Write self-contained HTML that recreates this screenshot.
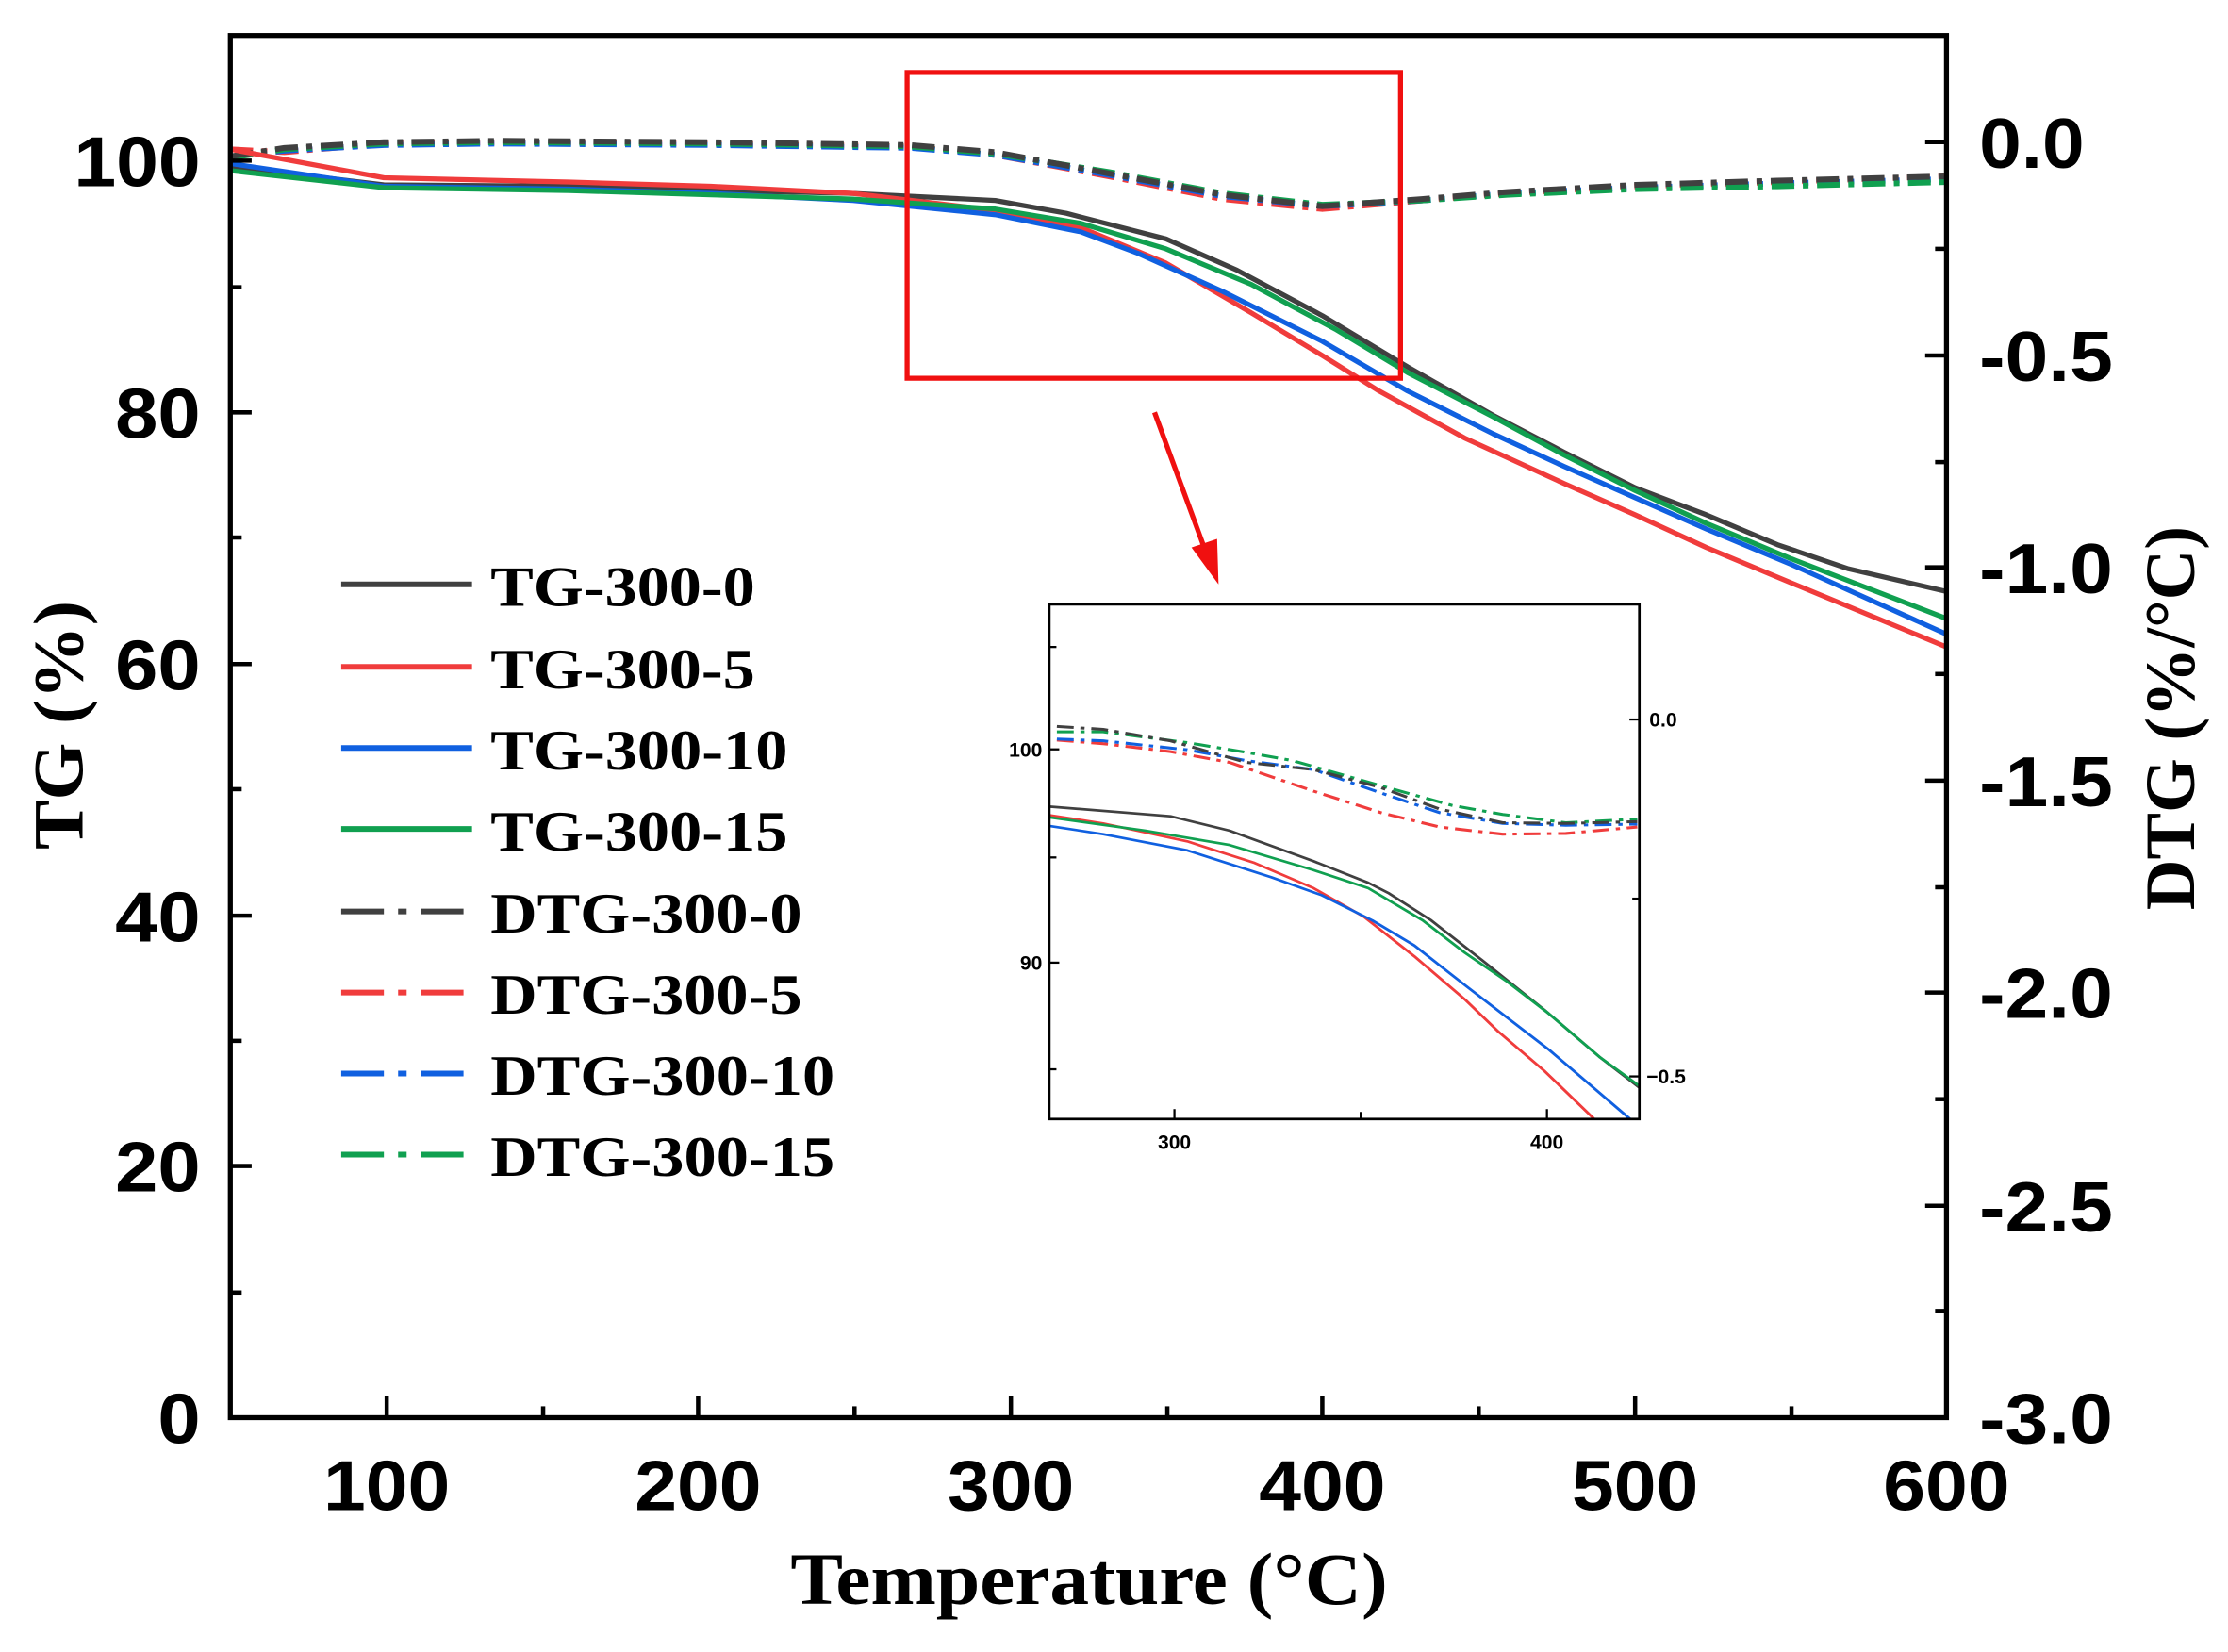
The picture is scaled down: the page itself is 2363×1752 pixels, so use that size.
<!DOCTYPE html>
<html><head><meta charset="utf-8"><style>
html,body{margin:0;padding:0;background:#fff}
svg{display:block}
.tk{font-family:"Liberation Sans",Arial,sans-serif;font-weight:bold;font-size:50px}
.sf{font-family:"Liberation Serif","Times New Roman",serif;font-weight:bold}
.sm{font-family:"Liberation Sans",Arial,sans-serif;font-weight:bold;font-size:14px}
</style></head><body>
<svg width="2363" height="1752" viewBox="0 0 1567 1161.8" preserveAspectRatio="none" xmlns="http://www.w3.org/2000/svg">
<rect width="1567" height="1162" fill="#fff"/>
<g fill="none" stroke-linejoin="round" stroke-linecap="butt">
<g stroke-width="4" stroke-dasharray="16 6 4 6">
<polyline stroke="#f03c3c" points="162,105 200,107 270,101 350,100 500,101 640,103 700,109 780,124 860,140 930,147 1000,141 1060,136 1150,131 1250,128 1369,124"/>
<polyline stroke="#1060e0" points="162,110 200,106 270,102 350,101 500,102 640,104 700,109 780,123 860,138 930,145 1000,141 1060,136 1150,132 1250,129 1369,126"/>
<polyline stroke="#10a050" points="162,111 200,105 270,101 350,100 500,101 640,103 700,108 780,121 860,136 930,144 1000,141 1060,137 1150,133 1250,131 1369,128"/>
<polyline stroke="#404040" points="162,110 200,104 270,100 350,99 500,100 640,102 700,107 780,122 860,137 930,145 1000,140 1060,135 1150,130 1250,127 1369,124"/>
</g>
<g stroke-width="3.5">
<polyline stroke="#404040" points="162,117 270,130 400,131 500,134 600,136 700,141 750,150 820,168 870,190 930,222 990,258 1050,292 1100,318 1150,343 1200,362 1250,383 1300,400 1369,416"/>
<polyline stroke="#f03c3c" points="162,105 270,125 400,128 500,131 600,136 700,148 760,160 820,185 880,220 930,250 970,275 1030,308 1100,340 1150,362 1200,385 1260,410 1369,455"/>
<polyline stroke="#1060e0" points="162,115 270,131 400,133 500,136 600,141 700,151 760,163 800,178 860,205 930,240 990,275 1050,305 1100,328 1150,350 1200,372 1260,397 1369,446"/>
<polyline stroke="#10a050" points="162,120 270,132 400,134 500,137 600,140 700,147 760,157 820,175 880,200 940,232 990,262 1050,293 1100,320 1150,345 1200,368 1260,393 1369,435"/>
</g>
</g>
<rect x="162" y="25" width="1207" height="972" fill="none" stroke="#000" stroke-width="3.5"/>
<g stroke="#000" stroke-width="3">
<line x1="272" y1="997" x2="272" y2="982"/><line x1="491" y1="997" x2="491" y2="982"/><line x1="711" y1="997" x2="711" y2="982"/><line x1="930" y1="997" x2="930" y2="982"/><line x1="1150" y1="997" x2="1150" y2="982"/>
<line x1="382" y1="997" x2="382" y2="989"/><line x1="601" y1="997" x2="601" y2="989"/><line x1="821" y1="997" x2="821" y2="989"/><line x1="1040" y1="997" x2="1040" y2="989"/><line x1="1260" y1="997" x2="1260" y2="989"/>
<line x1="162" y1="113" x2="177" y2="113"/><line x1="162" y1="290" x2="177" y2="290"/><line x1="162" y1="467" x2="177" y2="467"/><line x1="162" y1="644" x2="177" y2="644"/><line x1="162" y1="820" x2="177" y2="820"/>
<line x1="162" y1="202" x2="170" y2="202"/><line x1="162" y1="378" x2="170" y2="378"/><line x1="162" y1="555" x2="170" y2="555"/><line x1="162" y1="732" x2="170" y2="732"/><line x1="162" y1="909" x2="170" y2="909"/>
<line x1="1369" y1="100" x2="1354" y2="100"/><line x1="1369" y1="250" x2="1354" y2="250"/><line x1="1369" y1="399" x2="1354" y2="399"/><line x1="1369" y1="549" x2="1354" y2="549"/><line x1="1369" y1="698" x2="1354" y2="698"/><line x1="1369" y1="848" x2="1354" y2="848"/>
<line x1="1369" y1="175" x2="1361" y2="175"/><line x1="1369" y1="325" x2="1361" y2="325"/><line x1="1369" y1="474" x2="1361" y2="474"/><line x1="1369" y1="624" x2="1361" y2="624"/><line x1="1369" y1="773" x2="1361" y2="773"/><line x1="1369" y1="922" x2="1361" y2="922"/>
</g>
<g class="tk" text-anchor="end">
<text x="141" y="131" textLength="89" lengthAdjust="spacingAndGlyphs">100</text>
<text x="141" y="308" textLength="60" lengthAdjust="spacingAndGlyphs">80</text>
<text x="141" y="485" textLength="60" lengthAdjust="spacingAndGlyphs">60</text>
<text x="141" y="662" textLength="60" lengthAdjust="spacingAndGlyphs">40</text>
<text x="141" y="838" textLength="60" lengthAdjust="spacingAndGlyphs">20</text>
<text x="141" y="1015" textLength="30" lengthAdjust="spacingAndGlyphs">0</text>
</g>
<g class="tk" text-anchor="middle">
<text x="272" y="1062" textLength="89" lengthAdjust="spacingAndGlyphs">100</text>
<text x="491" y="1062" textLength="89" lengthAdjust="spacingAndGlyphs">200</text>
<text x="711" y="1062" textLength="89" lengthAdjust="spacingAndGlyphs">300</text>
<text x="930" y="1062" textLength="89" lengthAdjust="spacingAndGlyphs">400</text>
<text x="1150" y="1062" textLength="89" lengthAdjust="spacingAndGlyphs">500</text>
<text x="1369" y="1062" textLength="89" lengthAdjust="spacingAndGlyphs">600</text>
</g>
<g class="tk">
<text x="1392" y="118" textLength="74" lengthAdjust="spacingAndGlyphs">0.0</text>
<text x="1392" y="268" textLength="94" lengthAdjust="spacingAndGlyphs">-0.5</text>
<text x="1392" y="417" textLength="94" lengthAdjust="spacingAndGlyphs">-1.0</text>
<text x="1392" y="567" textLength="94" lengthAdjust="spacingAndGlyphs">-1.5</text>
<text x="1392" y="716" textLength="94" lengthAdjust="spacingAndGlyphs">-2.0</text>
<text x="1392" y="866" textLength="94" lengthAdjust="spacingAndGlyphs">-2.5</text>
<text x="1392" y="1015" textLength="94" lengthAdjust="spacingAndGlyphs">-3.0</text>
</g>
<text class="sf" x="766" y="1128" font-size="52" text-anchor="middle" textLength="420" lengthAdjust="spacingAndGlyphs">Temperature (°C)</text>
<text class="sf" transform="translate(58,510) rotate(-90)" font-size="50" text-anchor="middle" textLength="175" lengthAdjust="spacingAndGlyphs">TG (%)</text>
<text class="sf" transform="translate(1543,505) rotate(-90)" font-size="50" text-anchor="middle" textLength="270" lengthAdjust="spacingAndGlyphs">DTG (%/°C)</text>
<g stroke-width="4">
<line x1="240" y1="411" x2="332" y2="411" stroke="#404040"/>
<line x1="240" y1="469" x2="332" y2="469" stroke="#f03c3c"/>
<line x1="240" y1="526" x2="332" y2="526" stroke="#1060e0"/>
<line x1="240" y1="583" x2="332" y2="583" stroke="#10a050"/>
<g stroke-dasharray="30 10 6 10">
<line x1="240" y1="641" x2="332" y2="641" stroke="#404040"/>
<line x1="240" y1="698" x2="332" y2="698" stroke="#f03c3c"/>
<line x1="240" y1="755" x2="332" y2="755" stroke="#1060e0"/>
<line x1="240" y1="812" x2="332" y2="812" stroke="#10a050"/>
</g>
</g>
<g class="sf" font-size="40">
<text x="345" y="426" textLength="186" lengthAdjust="spacingAndGlyphs">TG-300-0</text>
<text x="345" y="484" textLength="186" lengthAdjust="spacingAndGlyphs">TG-300-5</text>
<text x="345" y="541" textLength="209" lengthAdjust="spacingAndGlyphs">TG-300-10</text>
<text x="345" y="598" textLength="209" lengthAdjust="spacingAndGlyphs">TG-300-15</text>
<text x="345" y="656" textLength="219" lengthAdjust="spacingAndGlyphs">DTG-300-0</text>
<text x="345" y="713" textLength="219" lengthAdjust="spacingAndGlyphs">DTG-300-5</text>
<text x="345" y="770" textLength="242" lengthAdjust="spacingAndGlyphs">DTG-300-10</text>
<text x="345" y="827" textLength="242" lengthAdjust="spacingAndGlyphs">DTG-300-15</text>
</g>
<rect x="638" y="51" width="347" height="215" fill="none" stroke="#f01010" stroke-width="3.5"/>
<line x1="812" y1="290" x2="848" y2="388" stroke="#f01010" stroke-width="3.5"/>
<polygon points="857,411 838,385 856,379" fill="#f01010"/>
<defs><clipPath id="ic"><rect x="738" y="425" width="415" height="362"/></clipPath></defs>
<rect x="738" y="425" width="415" height="362" fill="#fff"/>
<g clip-path="url(#ic)">
<g transform="translate(738,425) scale(0.2958,0.2526) translate(-72,-50)" fill="none" stroke-linejoin="round">
<g stroke-width="8" stroke-dasharray="40 16 10 16">
<polyline stroke="#f03c3c" points="90,428 200,438 360,460 500,490 700,570 860,630 1000,670 1150,690 1300,688 1470,670"/>
<polyline stroke="#1060e0" points="90,425 200,430 400,455 540,485 700,510 860,575 1000,630 1150,660 1300,665 1470,662"/>
<polyline stroke="#10a050" points="90,405 200,405 400,435 540,462 650,485 860,555 1030,610 1150,635 1300,658 1470,648"/>
<polyline stroke="#404040" points="90,390 200,398 360,430 540,490 700,510 860,560 1000,620 1150,658 1300,660 1470,655"/>
</g>
<g stroke-width="7">
<polyline stroke="#404040" points="72,613 360,640 500,680 700,765 830,825 880,855 980,930 1100,1040 1250,1180 1380,1310 1480,1400"/>
<polyline stroke="#f03c3c" points="72,637 200,660 400,710 560,770 700,840 820,920 940,1030 1060,1150 1140,1240 1250,1350 1365,1480 1380,1500"/>
<polyline stroke="#1060e0" points="72,667 200,690 400,735 600,810 720,860 840,930 940,1000 1060,1110 1160,1200 1260,1290 1340,1370 1450,1480 1470,1500"/>
<polyline stroke="#10a050" points="72,643 300,680 500,720 700,790 830,840 960,930 1060,1020 1160,1100 1260,1190 1380,1310 1480,1395"/>
</g>
</g>
</g>
<rect x="738" y="425" width="415" height="362" fill="none" stroke="#000" stroke-width="1.8"/>
<g stroke="#000" stroke-width="1.5">
<line x1="738" y1="455" x2="743" y2="455"/><line x1="738" y1="527" x2="745" y2="527"/><line x1="738" y1="603" x2="743" y2="603"/><line x1="738" y1="677" x2="745" y2="677"/><line x1="738" y1="752" x2="743" y2="752"/>
<line x1="1153" y1="506" x2="1146" y2="506"/><line x1="1153" y1="632" x2="1148" y2="632"/><line x1="1153" y1="757" x2="1146" y2="757"/>
<line x1="826" y1="787" x2="826" y2="780"/><line x1="957" y1="787" x2="957" y2="782"/><line x1="1088" y1="787" x2="1088" y2="780"/>
</g>
<g class="sm">
<text x="733" y="532" text-anchor="end">100</text>
<text x="733" y="682" text-anchor="end">90</text>
<text x="826" y="808" text-anchor="middle">300</text>
<text x="1088" y="808" text-anchor="middle">400</text>
<text x="1160" y="511">0.0</text>
<text x="1158" y="762">−0.5</text>
</g>
</svg>
</body></html>
